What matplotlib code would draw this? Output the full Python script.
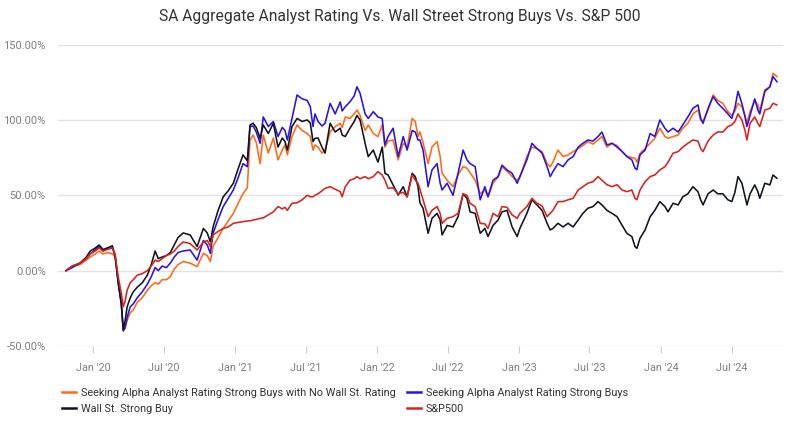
import matplotlib
matplotlib.use("Agg")
import matplotlib.pyplot as plt
from matplotlib.ticker import FuncFormatter
from matplotlib.lines import Line2D
import pandas as pd

dates_2019 = ['2019-10-24', '2019-11-09', '2019-11-29', '2019-12-15', '2019-12-25']
dates_2020 = ['2020-01-07', '2020-01-17', '2020-01-27', '2020-02-07', '2020-02-20', '2020-02-27',
              '2020-03-06', '2020-03-14', '2020-03-19', '2020-03-24', '2020-03-29', '2020-04-06',
              '2020-04-14', '2020-04-24', '2020-05-07', '2020-05-20', '2020-05-30', '2020-06-09',
              '2020-06-17', '2020-06-27', '2020-07-08', '2020-07-18', '2020-07-28', '2020-08-07',
              '2020-08-20', '2020-09-07', '2020-09-25', '2020-10-11', '2020-10-21', '2020-10-29',
              '2020-11-05', '2020-11-18', '2020-12-01', '2020-12-14', '2020-12-27']
dates_2021 = ['2021-01-09', '2021-01-21', '2021-02-01', '2021-02-08', '2021-02-16', '2021-02-24',
              '2021-03-06', '2021-03-14', '2021-03-27', '2021-04-09', '2021-04-21', '2021-05-02',
              '2021-05-09', '2021-05-15', '2021-05-27', '2021-06-09', '2021-06-22', '2021-07-05',
              '2021-07-13', '2021-07-20', '2021-07-25', '2021-08-02', '2021-08-12', '2021-08-20',
              '2021-09-02', '2021-09-15', '2021-09-28', '2021-10-03', '2021-10-11', '2021-10-23',
              '2021-11-03', '2021-11-10', '2021-11-18', '2021-12-01', '2021-12-09', '2021-12-22']
dates_2022 = ['2022-01-03', '2022-01-14', '2022-01-21', '2022-01-29', '2022-02-11', '2022-02-24',
              '2022-03-09', '2022-03-19', '2022-04-01', '2022-04-09', '2022-04-16', '2022-04-21',
              '2022-04-29', '2022-05-12', '2022-05-22', '2022-06-04', '2022-06-12', '2022-06-17',
              '2022-06-30', '2022-07-15', '2022-07-28', '2022-08-10', '2022-08-20', '2022-08-28',
              '2022-09-10', '2022-09-23', '2022-10-05', '2022-10-13', '2022-10-26', '2022-11-08',
              '2022-11-18', '2022-12-01', '2022-12-14', '2022-12-27']
dates_2023 = ['2023-01-03', '2023-01-21', '2023-02-03', '2023-02-16', '2023-03-01', '2023-03-14',
              '2023-03-22', '2023-03-29', '2023-04-11', '2023-04-24', '2023-05-07', '2023-05-20',
              '2023-06-02', '2023-06-14', '2023-06-27', '2023-07-10', '2023-07-23', '2023-08-02',
              '2023-08-15', '2023-08-28', '2023-09-10', '2023-09-23', '2023-10-05', '2023-10-18',
              '2023-10-26', '2023-10-31', '2023-11-08', '2023-11-21', '2023-12-04', '2023-12-16',
              '2023-12-29']
dates_2024 = ['2024-01-11', '2024-01-19', '2024-02-01', '2024-02-14', '2024-02-26', '2024-03-10',
              '2024-03-23', '2024-04-05', '2024-04-12', '2024-04-18', '2024-05-01', '2024-05-14',
              '2024-05-26', '2024-06-08', '2024-06-21', '2024-07-01', '2024-07-09', '2024-07-17',
              '2024-07-27', '2024-08-04', '2024-08-09', '2024-08-17', '2024-08-29', '2024-09-06',
              '2024-09-11', '2024-09-24', '2024-10-07', '2024-10-15', '2024-10-25']
dates = dates_2019 + dates_2020 + dates_2021 + dates_2022 + dates_2023 + dates_2024

# Seeking Alpha Analyst Rating Strong Buys with No Wall St. Rating (%)
sa_no_ws = [0, 3, 4, 7, 9,
            11, 13, 11, 12, 11, 9, -6, -22, -40, -37, -33, -28, -26, -21, -18, -13, -10, -8, -9, -6,
            -6, -4, 1, 4, 6, 5, 2.7, 11.5, 10, 6, 16, 22, 28, 33, 38,
            45, 51, 55, 86.7, 90, 85, 71, 90, 78, 88, 73.5, 80, 83.4, 76.8, 89, 96.7, 93, 91, 89, 80,
            83.4, 82, 78, 80, 92, 95.6, 97.8, 95, 102, 101, 104, 106.6, 103, 93, 96.7, 91,
            89, 96.7, 82, 86, 86.7, 73.5, 84.5, 82, 101, 99, 89, 92, 85, 71, 82, 85.6, 75.7, 64.6,
            60, 55.7, 63.5, 69, 68, 65, 60, 51, 53.5, 49, 58, 62, 69, 66, 62.4, 60,
            62, 75.7, 82, 81, 79, 71, 69, 72, 80, 75.7, 76.8, 79, 81, 83, 85.6, 84, 86.7, 89, 82,
            84.5, 83, 79, 76, 75, 74.6, 72, 77.9, 81, 84.5, 87.8, 94.5,
            89, 87.8, 89, 90, 94.5, 97.8, 104, 106.6, 100, 99, 106.6, 116.6, 113, 111, 105.5, 103,
            106, 111, 108.8, 103, 98, 105.5, 113, 110, 106, 120, 122, 131, 128.8]

# Seeking Alpha Analyst Rating Strong Buys (%)
sa_strong = [0, 2, 5, 8, 11,
             14, 16, 13, 15, 15, 10, -8, -22, -40, -38, -31, -24, -22, -18, -14, -9, -4, 2, 0, 3,
             2, 5, 9, 12, 13, 13.7, 7, 20, 17, 11.5, 24.8, 34, 42.5, 48, 53.5,
             62, 71, 69, 95.6, 96, 92, 84.5, 102, 95.6, 99, 89, 95, 93, 86.7, 101, 116.6, 114, 113,
             108.8, 95.6, 104, 99, 96, 97.8, 111, 104, 112, 106, 108.8, 112, 116, 122, 117.7, 104,
             101, 105.5,
             102, 101, 83.4, 89, 94.5, 75.7, 89, 80, 93, 92, 86.7, 86.7, 80, 55.7, 66.8, 71, 58,
             53.5, 58, 50, 64.6, 80, 73.5, 71, 69, 47, 55.7, 49, 60, 62.4, 70, 66.8, 64.6, 58,
             62.4, 73.5, 84.5, 81, 78, 69, 62.4, 65.7, 71, 69, 73.5, 75.7, 82, 84.5, 86.7, 86, 89,
             92, 83.4, 84.5, 82, 79, 75.7, 73.5, 68, 67, 76.8, 80, 91, 89, 100,
             94.5, 92, 94.5, 92, 96.7, 102, 107.7, 110, 101, 97.8, 107.7, 115.5, 111, 107.7, 104,
             101, 108, 119, 111, 102, 95.6, 103, 114, 106.6, 104, 119, 122, 128.8, 125.4]

# Wall St. Strong Buy (%)
wall_st = [0, 3, 5, 9, 13,
           15, 17, 14, 15, 16.5, 10, -8, -22, -39, -33, -24, -18, -14, -11, -8, -3, 4, 13, 8, 9,
           10, 12, 17, 22, 25, 23.7, 16, 28, 25, 19, 29, 40, 49, 53, 58,
           68, 76.8, 73, 96.7, 97.8, 95, 87.8, 96.7, 91, 97.8, 82, 88, 85.6, 80, 95.6, 101, 99, 100,
           98, 85.6, 87.8, 88, 82, 78, 97.8, 92, 94.5, 90, 89, 94.5, 99, 103, 100, 84.5, 75.7, 80,
           72, 82, 64.6, 63.5, 56.9, 50.2, 55.7, 49, 64.6, 62.4, 55.7, 45, 41.4, 24.8, 34.7, 38,
           33.6, 23.7, 30, 29, 35.8, 51, 48, 39, 38, 24.8, 28, 22.6, 30, 33.6, 39, 40, 29, 22.6,
           28, 38, 47, 43.6, 40, 31.4, 27, 28, 31.4, 29, 31.4, 29, 33.6, 38, 41.4, 42.5, 45.8,
           43.6, 40, 38, 35.8, 30, 24.8, 22.6, 16, 14.8, 21.5, 27, 35.8, 40, 45.8,
           42.5, 39, 44.7, 43.6, 49, 51, 55.7, 52.4, 47, 43.6, 51, 53.5, 51, 51, 47, 45.8, 52,
           62.4, 58, 49, 43.6, 51, 56.9, 52.4, 48, 58, 56.9, 63.5, 61.3]

# S&P500 (%)
sp500 = [0, 3, 5, 8, 11,
         13, 15, 13, 14, 15, 11, -4, -15, -24, -20, -13, -8, -6, -3, -2, 0, 3, 7, 6, 8,
         10, 11, 13, 16, 19, 18, 13.7, 19, 20, 16, 23.7, 26, 28, 29, 31.4,
         32, 32.5, 33, 33, 33.6, 34, 34.7, 35, 37, 39, 42.5, 41, 42, 40, 44.7, 45, 47, 50, 49, 49,
         50, 51, 53, 54.6, 55.7, 54, 52.4, 49, 55.7, 60, 61, 62.4, 61, 62.4, 61, 62.4,
         65.7, 63.5, 60, 54.6, 55, 51, 52, 49, 63.5, 60, 58, 54, 47, 35.8, 40, 42.5, 38, 31.4,
         34.7, 35.8, 38, 51, 50, 44.7, 42.5, 31.4, 31, 28, 38, 35.8, 42.5, 42, 37, 34.7,
         38, 42.5, 48, 44.7, 43, 35.8, 38, 40, 45.8, 45.8, 47, 48, 53.5, 55.7, 58, 59, 62.4, 60,
         57, 55.7, 57, 53.5, 52.4, 53.5, 48, 47, 53.5, 59, 62.4, 63.5, 66.8,
         69, 72, 77.9, 79, 82, 84.5, 86.7, 86, 81, 79, 86, 90, 92, 92, 95.6, 96.7, 99, 104, 100,
         93, 86.7, 97.8, 102, 97.8, 95.6, 106.6, 107.7, 111, 110]

series_labels = ['Seeking Alpha Analyst Rating Strong Buys with No Wall St. Rating',
                 'Seeking Alpha Analyst Rating Strong Buys',
                 'Wall St. Strong Buy',
                 'S&P500']
series_colors = ['#FF6A13', '#2A12E8', '#111420', '#D9221E']

x_ticks = ['2020-01-01', '2020-07-01', '2021-01-01', '2021-07-01', '2022-01-01',
           '2022-07-01', '2023-01-01', '2023-07-01', '2024-01-01', '2024-07-01']
x_tick_labels = ["Jan '20", "Jul '20", "Jan '21", "Jul '21", "Jan '22",
                 "Jul '22", "Jan '23", "Jul '23", "Jan '24", "Jul '24"]
y_ticks = [-50, 0, 50, 100, 150]
title = 'SA Aggregate Analyst Rating Vs. Wall Street Strong Buys Vs. S&P 500'

plt.rcParams['font.family'] = ['Roboto', 'DejaVu Sans']

dt = pd.to_datetime(dates)
fig = plt.figure(figsize=(8, 4.25), dpi=100)
ax = fig.add_axes([0.0729, 0.186, 0.906, 0.709])

for vals, lab, col in zip([sa_no_ws, sa_strong, wall_st, sp500], series_labels, series_colors):
    ax.plot(dt, vals, color=col, lw=1.15, label=lab, solid_joinstyle='round')

ax.set_ylim(-50, 150)
ax.set_xlim(pd.Timestamp('2019-10-04'), pd.Timestamp('2024-11-10'))
ax.set_yticks(y_ticks)
ax.yaxis.set_major_formatter(FuncFormatter(lambda v, p: f'{v:.2f}%'))
ax.set_xticks(pd.to_datetime(x_ticks))
ax.set_xticklabels(x_tick_labels)

for s in ax.spines.values():
    s.set_visible(False)
ax.yaxis.grid(True, color='#e2e2e2', lw=1.0)
ax.set_axisbelow(True)
ax.tick_params(axis='y', length=0, pad=9, labelsize=8, labelcolor='#808080')
ax.tick_params(axis='x', length=5, width=0.8, color='#cccccc', pad=7,
               labelsize=7.8, labelcolor='#808080')

fig.text(0.5, 1 - 17 / 425, title, ha='center', va='center', fontsize=11.25,
         color='#333333')

order = [0, 2, 1, 3]
leg = fig.legend([Line2D([], [], color=series_colors[i], lw=1.8) for i in order],
                 [series_labels[i] for i in order],
                 ncol=2, loc='upper left', bbox_to_anchor=(0.0775, 1 - 388 / 425),
                 frameon=False, fontsize=7.8, handlelength=1.3, handletextpad=0.46,
                 columnspacing=1.0, labelspacing=0.55, borderaxespad=0, borderpad=0)
for t in leg.get_texts():
    t.set_color('#333333')

fig.savefig('out.png', dpi=100)
